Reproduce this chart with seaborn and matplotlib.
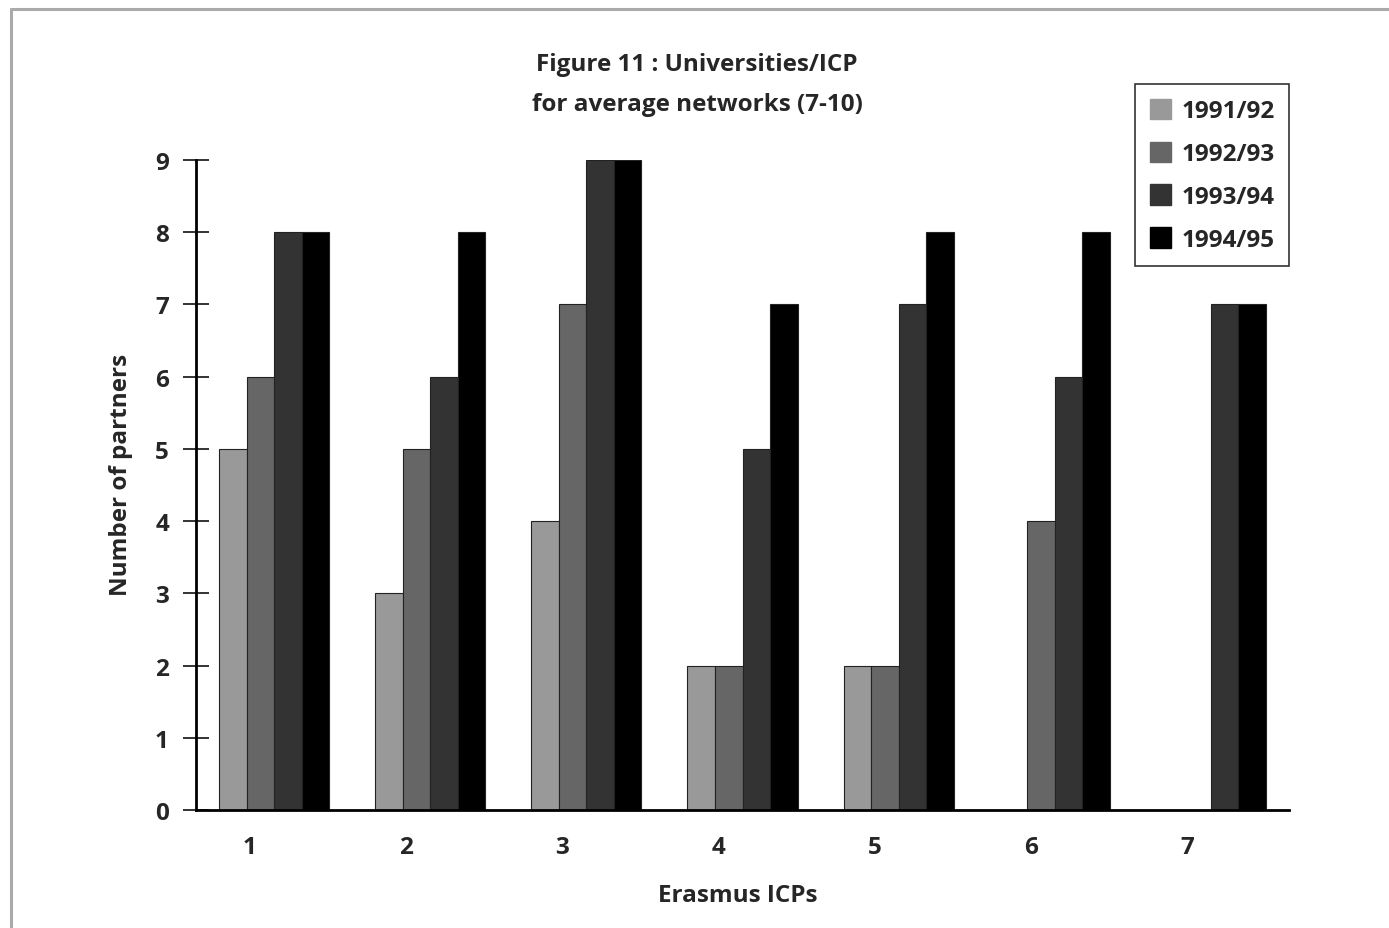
import numpy as np
import pandas as pd
import matplotlib
matplotlib.use("Agg")
import matplotlib.pyplot as plt
import seaborn as sns
from matplotlib.lines import Line2D
from matplotlib.patches import Patch

icps = ["1", "2", "3", "4", "5", "6", "7"]
years = ["1991/92", "1992/93", "1993/94", "1994/95"]
v1991 = [5, 3, 4, 2, 2, 0, 0]
v1992 = [6, 5, 7, 2, 2, 4, 0]
v1993 = [8, 6, 9, 5, 7, 6, 7]
v1994 = [8, 8, 9, 7, 8, 8, 7]
colors = ["#999999", "#666666", "#333333", "#000000"]

rows = []
for yr, vals in zip(years, [v1991, v1992, v1993, v1994]):
    for c, v in zip(icps, vals):
        rows.append({"icp": c, "year": yr, "partners": v})
df = pd.DataFrame(rows)

sns.set_style("white")
plt.rcParams["font.family"] = ["Open Sans", "DejaVu Sans"]
plt.rcParams["font.weight"] = "bold"

FS = 17.5

fig = plt.figure(figsize=(13.89, 9.29), dpi=100)
ax = fig.add_axes([196/1389, 1-811/929, (1289-196)/1389, (811-161)/929])

sns.barplot(data=df, x="icp", y="partners", hue="year", order=icps,
            hue_order=years, palette=colors, width=0.705, gap=0,
            edgecolor="#222222", linewidth=0.8, legend=False, ax=ax)

ax.set_xlim(-0.5, 6.5)
ax.set_ylim(0, 9)
ax.set_yticks(range(10))
ax.set_yticklabels([str(i) for i in range(10)], fontsize=FS, fontweight="bold")
ax.set_xticks(np.arange(7) - 0.154)
ax.set_xticklabels(icps, fontsize=FS, fontweight="bold")
ax.set_xticks(np.arange(7) + 0.5, minor=True)
ax.tick_params(axis="x", which="major", length=0, pad=18)
ax.tick_params(axis="x", which="minor", direction="in", length=11, width=1.2, color="#111111")
ax.tick_params(axis="y", which="major", direction="inout", length=19, width=1.4, color="#333333", pad=10, left=True)

for s in ["top", "right"]:
    ax.spines[s].set_visible(False)
for s in ["left", "bottom"]:
    ax.spines[s].set_color("black")
    ax.spines[s].set_linewidth(2)

ax.set_xlabel("Erasmus ICPs", fontsize=FS, fontweight="bold")
ax.set_ylabel("Number of partners", fontsize=FS, fontweight="bold")
ax.xaxis.set_label_coords((738-196)/(1289-196), -(896-811)/(811-161))
ax.yaxis.set_label_coords(-(196-121)/(1289-196), (811-475)/(811-161))
ax.xaxis.label.set_va("center")
ax.yaxis.label.set_va("center")

fig.text(697/1389, 1-65/929, "Figure 11 : Universities/ICP", ha="center", va="center",
         fontsize=FS, fontweight="bold")
fig.text(697/1389, 1-105/929, "for average networks (7-10)", ha="center", va="center",
         fontsize=FS, fontweight="bold")

handles = [Patch(facecolor=c, edgecolor=c) for c in colors]
leg = fig.legend(handles, years, loc="upper right",
                 bbox_to_anchor=(1289/1389, 1-85/929), frameon=True, fancybox=False,
                 prop={"size": FS, "weight": "bold"}, handlelength=0.9, handleheight=0.9,
                 handletextpad=0.4, labelspacing=0.76, borderpad=0.6, borderaxespad=0)
leg.get_frame().set_edgecolor("black")
leg.get_frame().set_linewidth(1.2)

# figure border lines (top and left)
fig.add_artist(Line2D([11/1389, 1], [1-10/929, 1-10/929], color="#aaaaaa", linewidth=2.2,
                      transform=fig.transFigure))
fig.add_artist(Line2D([11/1389, 11/1389], [0, 1-10/929], color="#aaaaaa", linewidth=2.2,
                      transform=fig.transFigure))

fig.savefig("out.png", dpi=100, facecolor="white")
